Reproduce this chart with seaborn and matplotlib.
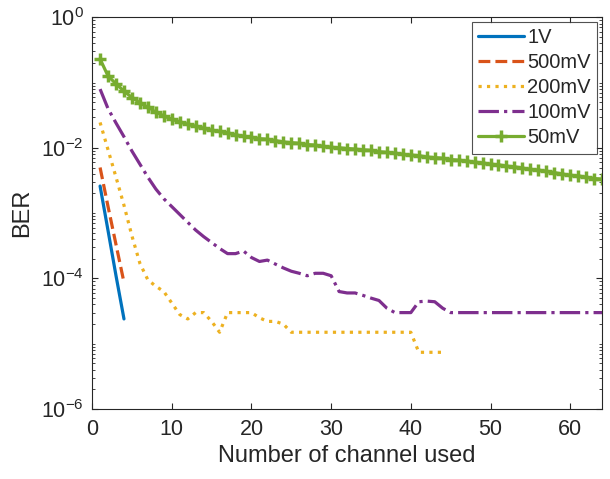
import numpy as np
import pandas as pd
import matplotlib
matplotlib.use("Agg")
import matplotlib.pyplot as plt
from matplotlib.ticker import LogLocator, FixedLocator, NullFormatter
import seaborn as sns

# ---- data ----
ch_1v = [1, 2, 3, 4]
ber_1v = [2.6e-3, 5.4e-4, 1.1e-4, 2.4e-5]

ch_500mv = [1, 2, 3, 4]
ber_500mv = [5.0e-3, 1.26e-3, 3.3e-4, 8.7e-5]

ch_200mv = list(range(1, 45))
ber_200mv = [0.0245, 0.00933, 0.00355, 0.00132, 4.47e-4, 1.70e-4, 9.5e-5, 7.6e-5,
             6.3e-5, 4.2e-5, 2.8e-5, 2.4e-5, 3.0e-5, 3.0e-5, 2.2e-5, 1.5e-5,
             3.0e-5, 3.0e-5, 3.0e-5, 3.0e-5, 2.5e-5, 2.2e-5, 2.2e-5, 2.0e-5,
             1.5e-5, 1.5e-5, 1.5e-5, 1.5e-5, 1.5e-5, 1.5e-5, 1.5e-5, 1.5e-5,
             1.5e-5, 1.5e-5, 1.5e-5, 1.5e-5, 1.5e-5, 1.5e-5, 1.5e-5, 1.5e-5,
             7.4e-6, 7.4e-6, 7.4e-6, 7.4e-6]

ch_100mv = list(range(1, 65))
ber_100mv = [0.0794, 0.0398, 0.0240, 0.0148, 0.00891, 0.00562, 0.00355, 0.00234,
             0.00166, 0.00126, 9.55e-4, 7.24e-4, 5.50e-4, 4.37e-4, 3.55e-4, 2.88e-4,
             2.40e-4, 2.40e-4, 2.63e-4, 2.09e-4, 1.82e-4, 1.91e-4, 1.66e-4, 1.45e-4,
             1.29e-4, 1.20e-4, 1.10e-4, 1.20e-4, 1.20e-4, 1.10e-4, 6.3e-5, 6.0e-5,
             6.0e-5, 5.5e-5, 5.0e-5, 4.6e-5, 3.5e-5, 3.0e-5, 3.0e-5, 3.0e-5,
             4.4e-5, 4.5e-5, 4.4e-5, 3.5e-5, 3.0e-5, 3.0e-5, 3.0e-5, 3.0e-5,
             3.0e-5, 3.0e-5, 3.0e-5, 3.0e-5, 3.0e-5, 3.0e-5, 3.0e-5, 3.0e-5,
             3.0e-5, 3.0e-5, 3.0e-5, 3.0e-5, 3.0e-5, 3.0e-5, 3.0e-5, 3.0e-5]

ch_50mv = list(range(1, 65))
ber_50mv = [0.229, 0.126, 0.0955, 0.0741, 0.0589, 0.0490, 0.0417, 0.0355,
            0.0309, 0.0275, 0.0251, 0.0229, 0.0214, 0.0200, 0.0186, 0.0178,
            0.0170, 0.0158, 0.0151, 0.0145, 0.0138, 0.0135, 0.0129, 0.0123,
            0.0120, 0.0117, 0.0112, 0.0110, 0.0105, 0.0102, 0.0100, 0.00977,
            0.00955, 0.00933, 0.00912, 0.00871, 0.00851, 0.00832, 0.00794, 0.00776,
            0.00759, 0.00724, 0.00708, 0.00692, 0.00661, 0.00646, 0.00631, 0.00603,
            0.00589, 0.00562, 0.00550, 0.00525, 0.00513, 0.00490, 0.00468, 0.00457,
            0.00437, 0.00417, 0.00398, 0.00380, 0.00372, 0.00355, 0.00339, 0.00331]

x_ticks = [0, 10, 20, 30, 40, 50, 60]
y_ticks = [1e-6, 1e-4, 1e-2, 1e0]

# ---- style ----
sns.set_style("ticks")
plt.rcParams['font.family'] = ['Liberation Sans', 'DejaVu Sans']
plt.rcParams['mathtext.fontset'] = 'custom'
plt.rcParams['mathtext.rm'] = 'Liberation Sans'
plt.rcParams['mathtext.it'] = 'Liberation Sans:italic'
plt.rcParams['xtick.direction'] = 'in'
plt.rcParams['ytick.direction'] = 'in'

fig = plt.figure(figsize=(6.10, 4.79), dpi=100)
ax = fig.add_axes([0.151, 0.146, 0.836, 0.818])

series = [
    (ch_1v, ber_1v, '1V', '#0072BD', '-', None),
    (ch_500mv, ber_500mv, '500mV', '#D95319', '--', None),
    (ch_200mv, ber_200mv, '200mV', '#EDB120', ':', None),
    (ch_100mv, ber_100mv, '100mV', '#7E2F8E', '-.', None),
    (ch_50mv, ber_50mv, '50mV', '#77AC30', '-', '+'),
]

for xs, ys, lab, col, ls, mk in series:
    df = pd.DataFrame({'ch': xs, 'ber': ys})
    sns.lineplot(data=df, x='ch', y='ber', ax=ax, label=lab, color=col,
                 linestyle=ls, linewidth=2.3, marker=mk, markersize=8,
                 markeredgewidth=2.5, markeredgecolor=col)

ax.set_yscale('log')
ax.set_xlim(0, 64)
ax.set_ylim(1e-6, 1e0)
ax.xaxis.set_major_locator(FixedLocator(x_ticks))
ax.yaxis.set_major_locator(FixedLocator(y_ticks))
ax.yaxis.set_minor_locator(LogLocator(base=10, subs=np.arange(1, 10), numticks=50))
ax.yaxis.set_minor_formatter(NullFormatter())

ax.tick_params(which='both', top=True, right=True, direction='in', colors='#262626',
               labelcolor='#262626')
ax.tick_params(which='major', length=4, width=0.8, labelsize=15.5)
ax.tick_params(axis='x', which='major', pad=7)
ax.tick_params(axis='y', which='major', pad=6)
ax.tick_params(which='minor', length=2, width=0.6)
for sp in ax.spines.values():
    sp.set_color('#262626')
    sp.set_linewidth(0.8)

ax.set_xlabel('Number of channel used', fontsize=17, color='#262626', labelpad=4)
ax.set_ylabel('BER', fontsize=17, color='#262626', labelpad=6)

leg = ax.legend(loc='upper right', fontsize=14.5, frameon=True, fancybox=False,
                edgecolor='#262626', handlelength=2.3, handletextpad=0.15,
                labelspacing=0.3, borderpad=0.3, borderaxespad=0.25)
leg.get_frame().set_linewidth(0.8)

fig.savefig('out.png', dpi=100)
